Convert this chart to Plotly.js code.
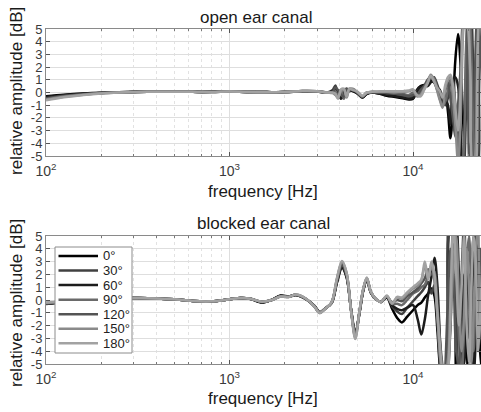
<!DOCTYPE html>
<html>
<head>
<meta charset="utf-8">
<script src="https://cdn.plot.ly/plotly-3.0.1.min.js"></script>
<style>html,body{margin:0;padding:0;background:#fff;}#chart{width:481px;height:412px;}</style>
</head>
<body>
<div id="chart"></div>
<script>
// ---------- data ----------
const angles = ['0°','30°','60°','90°','120°','150°','180°'];
const panelTitles = ['open ear canal','blocked ear canal'];
const xTickVals = [100, 1000, 10000];
const xTickText = ['10<sup>2</sup>','10<sup>3</sup>','10<sup>4</sup>'];
const xMinorVals = [200,300,400,500,600,700,800,900,2000,3000,4000,5000,6000,7000,8000,9000,20000];
const yTickVals = [-5,-4,-3,-2,-1,0,1,2,3,4,5];
const yTickText = ['-5','-4','-3','-2','-1','0','1','2','3','4','5'];

// open ear canal
const fOpen = [100,125,160,200,250,315,400,500,630,800,1000,1250,1600,2000,2500,3000,
  3400,3650,3780,3900,4050,4200,4350,4500,4700,5000,5300,5600,6000,6600,7200,8000,
  8800,9500,10000,10500,11000,11500,12000,12500,13000,13500,14000,14500,15000,15500,16000,16500,17000,17600,18200,18800,19400,20000,20600,21200,21800,22400,23000,24000];
const open0 = [-0.3,-0.18,-0.08,-0.02,0.02,0.05,0.06,0.06,0.05,0.05,0.06,0.04,0.03,0.03,0.1,0.08,
  0,0.05,0.2,-0.1,0.2,0.1,-0.1,0.2,0.15,-0.1,-0.4,-0.1,0,-0.1,-0.25,-0.35,
  -0.45,-0.55,-0.5,0.2,0.5,0.6,0.6,0.9,0.8,0.4,0.2,-0.3,-0.2,-1.5,-3.6,-1.2,2.5,4.6,2.0,-2.5,-6,-7,-6,-5.5,-7,-6,-6.5,-6];
const open30 = [-0.4,-0.25,-0.12,-0.04,0.01,0.04,0.06,0.06,0.05,0.05,0.06,0.04,0.03,0.03,0.1,0.08,
  0,0.2,0.55,-0.2,-0.4,0.2,0.3,0.1,0.2,-0.1,-0.35,-0.1,0,-0.05,-0.15,-0.25,
  -0.3,-0.35,-0.3,0.1,0.4,0.5,0.7,1.1,1.2,0.7,0.0,-0.6,-1.0,-0.4,0.8,1.0,-1.5,-3.0,-5.5,-6,-2,6,6.5,3,-6,-6,5,6];
const open60 = [-0.35,-0.22,-0.1,-0.03,0.02,0.05,0.06,0.06,0.05,0.05,0.06,0.04,0.03,0.03,0.1,0.07,
  0,0.1,0.3,0.1,-0.5,-0.2,0.25,0.2,0.1,-0.05,-0.4,-0.1,0,-0.1,-0.2,-0.3,
  -0.4,-0.5,-0.45,0.0,0.4,0.5,0.5,0.8,1.0,0.5,-0.2,-0.8,-0.6,-1.0,-2.5,0.9,1.2,0.5,-3,-6.5,-6,-7,-4,-6,-7,-5,-6,-5];
const open90 = [-0.5,-0.3,-0.15,-0.05,0.0,0.04,0.06,0.06,0.05,0.04,0.07,0.04,0.02,0.03,0.11,0.09,
  0,0,0.1,-0.3,0.2,-0.5,0.1,0.3,0.2,0,-0.3,-0.05,0.05,0,0,-0.05,
  -0.1,-0.2,0.0,-0.2,0.0,0.3,0.9,1.3,1.1,0.5,-0.5,-1.0,-0.7,0.2,1.0,0.5,-0.8,-4,-6,-5,3,7,5,-2,-6,-2,4,6];
const open120 = [-0.45,-0.28,-0.13,-0.04,0.01,0.04,0.06,0.06,0.05,0.04,0.07,0.04,0.02,0.03,0.11,0.09,
  0,0.05,0.4,0.2,-0.2,-0.3,0.3,0.15,0.25,-0.05,-0.35,0,0,0,-0.05,-0.1,
  -0.2,-0.3,-0.2,-0.2,0.2,0.5,1.0,1.2,0.9,0.3,-0.3,-0.5,0.2,0.8,-0.5,-2,-3.5,-1,2,6,6.5,-2,-6,-6,2,6,5,-2];
const open150 = [-0.55,-0.34,-0.17,-0.06,0.0,0.04,0.06,0.06,0.05,0.04,0.07,0.04,0.02,0.03,0.12,0.1,
  0,-0.05,-0.2,-0.4,0.1,0.2,-0.4,0.25,0.3,0,-0.3,0,0.05,0.05,0.05,0,
  0.05,0.1,0.2,-0.3,-0.2,0.3,0.8,1.4,1.0,0.2,-0.6,-1.2,0.3,1.0,1.3,-0.5,-2.5,-5.5,-2,5,6.5,6,-3,-6,-5,2,6,4];
const open180 = [-0.62,-0.38,-0.19,-0.07,0.0,0.04,0.06,0.06,0.05,0.04,0.07,0.04,0.02,0.03,0.12,0.1,
  0,0,-0.1,-0.5,0.25,0.3,-0.3,0.3,0.2,0.05,-0.25,0,0.05,0.1,0.1,0.1,
  0.1,0.15,0.25,-0.2,-0.3,0.2,0.7,1.3,0.9,0.4,0.1,-0.4,0.6,1.2,1.4,0.6,-1.2,-3,0.5,5.5,7,5,1,-6,-6,1,6,5];

// blocked ear canal
const fBlocked = [100,125,160,200,250,315,400,500,630,800,1000,1150,1300,1500,1700,1900,2100,2300,2600,2900,
  3100,3300,3600,3850,4100,4350,4600,4850,5100,5350,5600,5900,6300,6700,
  7200,7700,8200,8700,9300,10000,10600,11100,11600,12100,12600,13100,13600,14200,14800,15400,16000,16600,17200,17800,
  18400,19000,19600,20200,20800,21400,22000,22600,23200,24000];
const blocked0 = [-0.3,-0.16,-0.02,0.08,0.14,0.15,0.12,0.05,-0.08,-0.1,0.06,0.16,0.08,-0.2,0.02,0.35,0.28,0.4,0.08,-0.45,
  -0.95,-0.7,-0.25,1.4,2.6,1.8,-0.8,-2.7,-1.1,0.7,1.6,0.55,0.05,-0.15,
  0.2,-0.7,-1.4,-1.75,-1.3,-0.8,-0.4,-0.2,0.2,0.5,0.9,0.3,-2.5,-6,-7,-6,6,6,-6,-7,
  -3,2,-1,-6,-6,3,6,2,-4,-6];
const blocked30 = [-0.28,-0.15,-0.01,0.09,0.14,0.15,0.12,0.05,-0.08,-0.1,0.05,0.15,0.1,-0.15,0.0,0.3,0.25,0.38,0.1,-0.48,
  -1.0,-0.7,-0.2,1.5,2.8,1.9,-0.8,-2.8,-1.0,0.75,1.65,0.6,0.05,-0.15,
  0.25,-0.5,-0.9,-1.1,-0.6,-0.1,0.3,0.6,1.0,1.4,0.5,1.2,-1.5,-5.5,-6,-3,7,7,0,-6,
  -5,1,4,0,-3,1,-2,4,1,-3];
const blocked60 = [-0.32,-0.17,-0.02,0.08,0.14,0.15,0.12,0.05,-0.08,-0.1,0.06,0.16,0.09,-0.18,0.01,0.33,0.27,0.4,0.09,-0.46,
  -0.97,-0.7,-0.25,1.35,2.5,1.75,-0.75,-2.6,-1.05,0.7,1.6,0.55,0.05,-0.15,
  0.25,-0.4,-0.7,-0.8,-0.6,-0.4,-1.5,-2.7,-1.5,0.4,1.8,3.3,1.0,-4.5,-7,-6,-2,5,6,2,
  -2,-5,-1,2,-1,-6,-3,1,3,0];
const blocked90 = [-0.25,-0.13,0.0,0.1,0.15,0.15,0.12,0.05,-0.08,-0.1,0.05,0.15,0.1,-0.14,0.0,0.28,0.24,0.4,0.1,-0.5,
  -1.0,-0.72,-0.2,1.6,2.9,2.0,-0.85,-2.9,-1.0,0.8,1.7,0.6,0.05,-0.15,
  0.3,-0.3,-0.3,-0.4,0.0,0.5,0.7,1.0,1.2,2.0,2.6,1.5,-1.0,-5,-6,-4,1,6,3,-3,
  -6,-2,3,5,0,-4,0,-3,2,4];
const blocked120 = [-0.27,-0.14,0.0,0.1,0.15,0.15,0.12,0.05,-0.08,-0.1,0.05,0.15,0.1,-0.15,0.0,0.3,0.25,0.39,0.1,-0.49,
  -1.0,-0.71,-0.22,1.5,2.7,1.9,-0.8,-2.8,-1.0,0.78,1.68,0.6,0.05,-0.15,
  0.3,-0.2,0.0,-0.1,0.3,0.6,0.9,1.3,1.7,2.4,2.0,2.2,-0.5,-4,-6,-1,4,2,-4,-5,
  2,6,0,-3,2,5,1,-1,4,2];
const blocked150 = [-0.22,-0.12,0.01,0.1,0.15,0.15,0.12,0.05,-0.08,-0.1,0.05,0.15,0.1,-0.13,0.0,0.27,0.24,0.42,0.12,-0.5,
  -1.02,-0.72,-0.18,1.65,3.0,2.1,-0.85,-3.0,-0.95,0.82,1.72,0.62,0.06,-0.15,
  0.3,-0.3,0.2,0.1,0.5,0.9,1.1,1.5,2.7,1.7,2.8,1.5,-1.5,-5,-6,-5,-2,3,5,0,
  -4,-1,4,1,-5,-1,4,6,-2,0];
const blocked180 = [-0.2,-0.11,0.01,0.1,0.15,0.15,0.12,0.05,-0.08,-0.1,0.05,0.15,0.1,-0.13,0.0,0.27,0.24,0.42,0.12,-0.5,
  -1.02,-0.72,-0.18,1.7,3.05,2.1,-0.9,-3.05,-0.95,0.85,1.75,0.62,0.06,-0.15,
  0.35,-0.25,0.25,0.2,0.6,1.0,1.3,1.6,3.0,1.6,3.0,2.0,-1.0,-4.5,-6.5,-6,0,6,2,-2,
  1,5,-2,-5,1,5,3,-4,-1,3];

const openSeries = [open0, open30, open60, open90, open120, open150, open180];
const blockedSeries = [blocked0, blocked30, blocked60, blocked90, blocked120, blocked150, blocked180];

// ---------- style ----------
const W = 481, H = 412;
const lineColors = ['#000000','#404040','#1c1c1c','#6a6a6a','#545454','#8a8a8a','#a2a2a2'];
const FONT = 'Liberation Sans, Arial, Helvetica, sans-serif';
const px = p => p / W;
const py = p => 1 - p / H;

const traces = [];
angles.forEach((a, i) => {
  traces.push({x: fOpen, y: openSeries[i], xaxis: 'x', yaxis: 'y', type: 'scatter', mode: 'lines',
    name: a, line: {color: lineColors[i], width: 2.5, shape: 'spline', smoothing: 0.9}, showlegend: false, hoverinfo: 'skip'});
});
angles.forEach((a, i) => {
  traces.push({x: fBlocked, y: blockedSeries[i], xaxis: 'x2', yaxis: 'y2', type: 'scatter', mode: 'lines',
    name: a, line: {color: lineColors[i], width: 2.5, shape: 'spline', smoothing: 0.9}, showlegend: false, hoverinfo: 'skip'});
});

const xRange = [2, 2 + 435 / 183.5];
function xAxis(anchor) {
  return {
    type: 'log', range: xRange, domain: [px(46), 1], anchor: anchor,
    tickmode: 'array', tickvals: xTickVals, ticktext: xTickText,
    ticks: 'inside', ticklen: 4, tickwidth: 1, tickcolor: '#555', ticklabelstandoff: 2,
    showline: true, linecolor: '#8a8a8a', linewidth: 1, mirror: 'ticks',
    showgrid: true, gridcolor: '#dedede', gridwidth: 1, zeroline: false,
    minor: {tickmode: 'array', tickvals: xMinorVals, ticks: 'inside', ticklen: 2, tickcolor: '#777',
            showgrid: true, gridcolor: '#e2e2e2', griddash: 'dot', gridwidth: 1},
    tickfont: {family: FONT, size: 14, color: '#3a3a3a'}
  };
}
function yAxis(anchor, top, bottom) {
  return {
    range: [-5, 5], domain: [py(bottom), py(top)], anchor: anchor,
    tickmode: 'array', tickvals: yTickVals, ticktext: yTickText,
    ticks: 'inside', ticklen: 4, tickwidth: 1, tickcolor: '#555',
    showline: true, linecolor: '#8a8a8a', linewidth: 1, mirror: 'ticks',
    showgrid: true, gridcolor: '#dedede', gridwidth: 1, zeroline: false,
    tickfont: {family: FONT, size: 13, color: '#3a3a3a'}
  };
}

const ann = [];
function label(text, x, y, size, angle) {
  ann.push({text: text, x: px(x), y: py(y), xref: 'paper', yref: 'paper', showarrow: false,
    xanchor: 'center', yanchor: 'middle', textangle: angle || 0,
    font: {family: FONT, size: size, color: '#1a1a1a'}});
}
label(panelTitles[0], 256, 18, 17);
label('frequency [Hz]', 262.5, 191, 17);
label('relative amplitude [dB]', 16, 91, 17, -90);
label(panelTitles[1], 263.5, 223, 17);
label('frequency [Hz]', 262.5, 398, 17);
label('relative amplitude [dB]', 16, 303, 17, -90);

// legend (drawn box)
const shapes = [{type: 'rect', xref: 'paper', yref: 'paper', x0: px(55), x1: px(132), y0: py(353), y1: py(247),
  line: {color: '#8c8c8c', width: 1}, fillcolor: '#ffffff', layer: 'above'}];
angles.forEach((a, i) => {
  const yy = 256 + i * 14.55;
  shapes.push({type: 'line', xref: 'paper', yref: 'paper', x0: px(58.5), x1: px(98), y0: py(yy), y1: py(yy),
    line: {color: lineColors[i], width: 2.5}, layer: 'above'});
  ann.push({text: a, x: px(101), y: py(yy), xref: 'paper', yref: 'paper', showarrow: false,
    xanchor: 'left', yanchor: 'middle', font: {family: FONT, size: 13, color: '#222'}});
});

const layout = {
  width: W, height: H, margin: {l: 0, r: 0, t: 0, b: 0},
  paper_bgcolor: '#ffffff', plot_bgcolor: '#ffffff', showlegend: false,
  xaxis: xAxis('y'), yaxis: yAxis('x', 29, 156),
  xaxis2: xAxis('y2'), yaxis2: yAxis('x2', 236, 364),
  annotations: ann, shapes: shapes
};

Plotly.newPlot('chart', traces, layout, {staticPlot: true, displayModeBar: false});
</script>
</body>
</html>
